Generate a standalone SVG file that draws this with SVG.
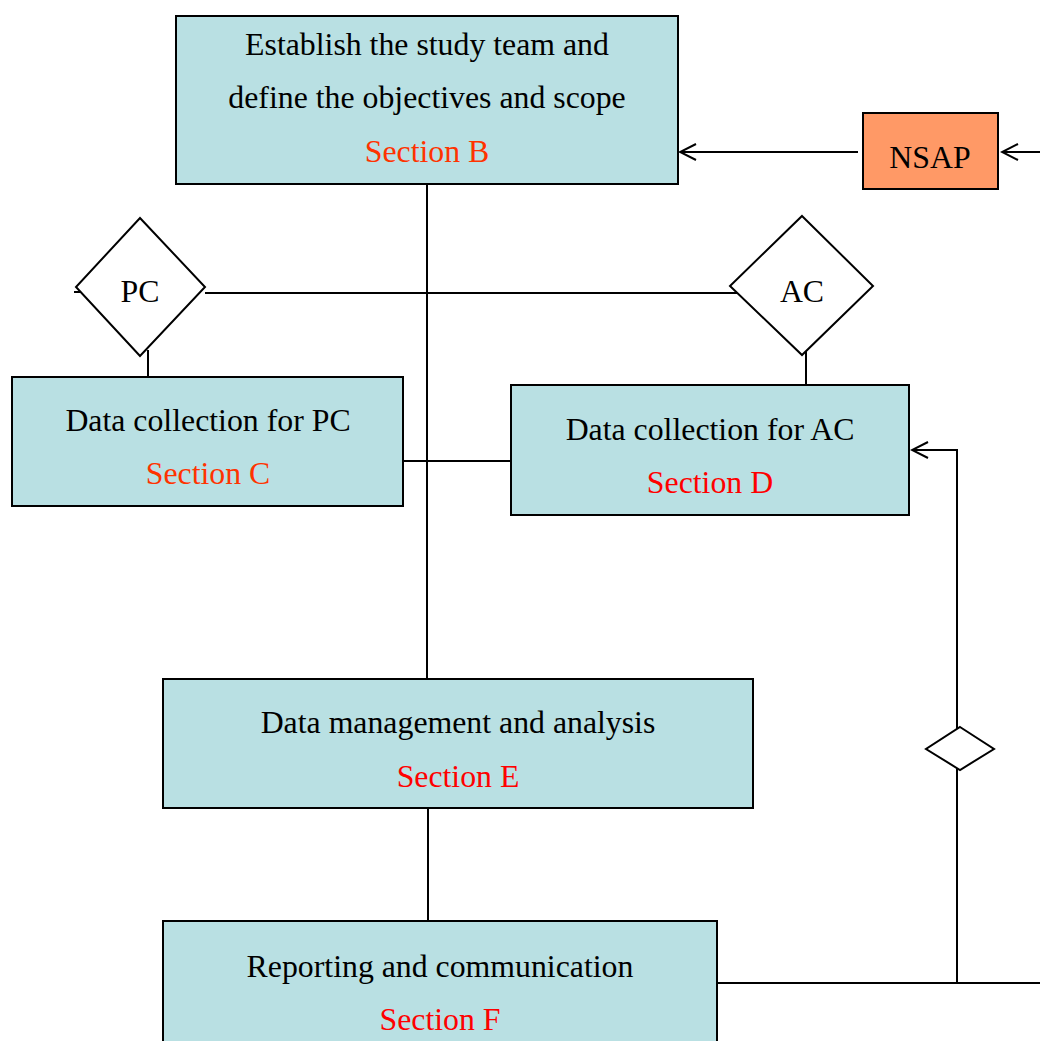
<svg xmlns="http://www.w3.org/2000/svg" width="1040" height="1041" viewBox="0 0 1040 1041">
<style>
.box{fill:#B9E0E3;stroke:#000;stroke-width:2}
.dia{fill:#fff;stroke:#000;stroke-width:2}
.t{font-family:"Liberation Serif","Times New Roman",serif;font-size:31.8px;text-anchor:middle;fill:#000}
.sb{fill:#FF3300}
.sd{fill:#FF0000}
.ln{fill:none;stroke:#000;stroke-width:2}
</style>
<defs>
<marker id="arr" markerWidth="20" markerHeight="20" refX="18" refY="10" orient="auto" markerUnits="userSpaceOnUse">
<path d="M2,2 L18,10 L2,18" fill="none" stroke="#000" stroke-width="2"/>
</marker>
</defs>
<rect width="1040" height="1041" fill="#fff"/>
<g id="connectors">
<line class="ln" x1="427" y1="184" x2="427" y2="679"/>
<line class="ln" x1="205" y1="293" x2="738" y2="293"/>
<line class="ln" x1="74" y1="292" x2="80" y2="292"/>
<line class="ln" x1="148" y1="350" x2="148" y2="377"/>
<line class="ln" x1="806" y1="350" x2="806" y2="385"/>
<line class="ln" x1="403" y1="461" x2="511" y2="461"/>
<line class="ln" x1="428" y1="808" x2="428" y2="921"/>
<line class="ln" x1="717" y1="983" x2="1040" y2="983"/>
<polyline class="ln" points="957,983 957,450 912,450" marker-end="url(#arr)"/>
<line class="ln" x1="858" y1="152" x2="680" y2="152" marker-end="url(#arr)"/>
<line class="ln" x1="1040" y1="152" x2="1002" y2="152" marker-end="url(#arr)"/>
</g>
<g id="nodeB">
<rect class="box" x="176" y="16" width="502" height="168"/>
<text class="t" x="427" y="55">Establish the study team and</text>
<text class="t" x="427" y="108">define the objectives and scope</text>
<text class="t sb" x="427" y="162">Section B</text>
</g>
<g id="nodeNSAP">
<rect x="863" y="113" width="135" height="76" fill="#FF9966" stroke="#000" stroke-width="2"/>
<text class="t" x="930" y="168">NSAP</text>
</g>
<g id="nodePC">
<polygon class="dia" points="140,218 205,287 140,356 76,287"/>
<text class="t" x="140" y="302">PC</text>
</g>
<g id="nodeAC">
<polygon class="dia" points="802,216 873,286 802,355 730,286"/>
<text class="t" x="802" y="302">AC</text>
</g>
<g id="nodeC">
<rect class="box" x="12" y="377" width="391" height="129"/>
<text class="t" x="208" y="431">Data collection for PC</text>
<text class="t sb" x="208" y="484">Section C</text>
</g>
<g id="nodeD">
<rect class="box" x="511" y="385" width="398" height="130"/>
<text class="t" x="710" y="440">Data collection for AC</text>
<text class="t sd" x="710" y="493">Section D</text>
</g>
<g id="nodeE">
<rect class="box" x="163" y="679" width="590" height="129"/>
<text class="t" x="458" y="733">Data management and analysis</text>
<text class="t sd" x="458" y="787">Section E</text>
</g>
<g id="nodeF">
<rect class="box" x="163" y="921" width="554" height="130"/>
<text class="t" x="440" y="977">Reporting and communication</text>
<text class="t sd" x="440" y="1030">Section F</text>
</g>
<g id="nodeSmall">
<polygon class="dia" points="960,727 994,749 960,770 926,749"/>
</g>
</svg>
